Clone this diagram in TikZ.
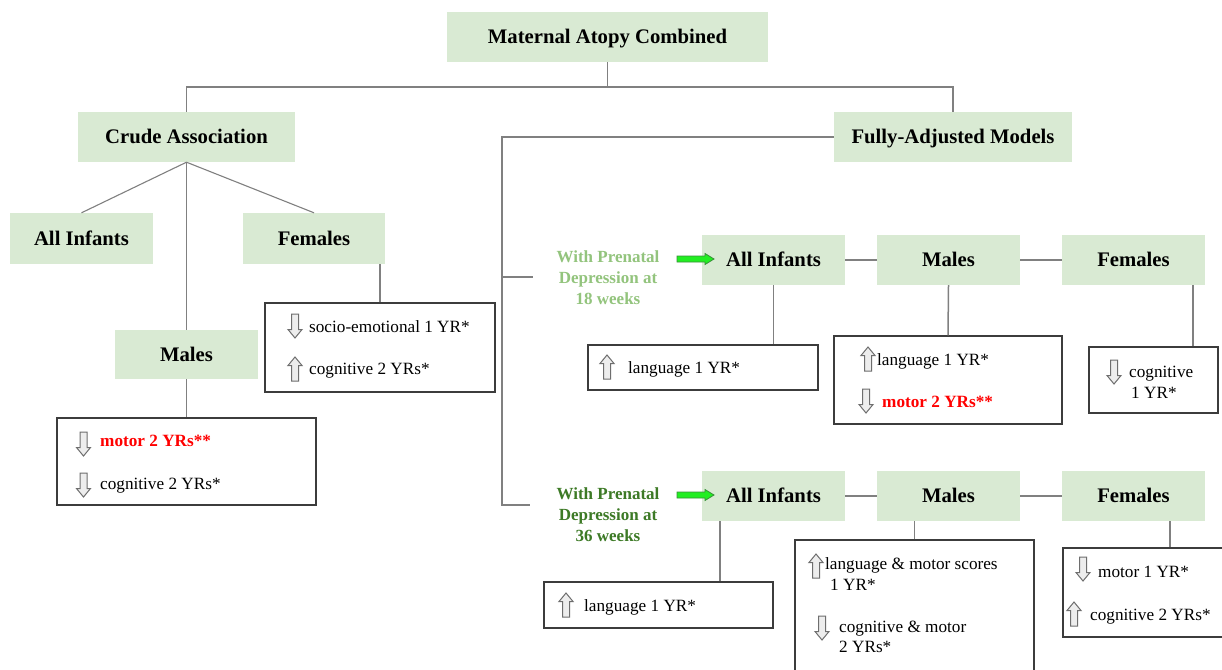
\documentclass[tikz,border=0pt]{standalone}
\usepackage{fontspec}
\setmainfont{Liberation Serif}
\definecolor{boxgreen}{HTML}{D9EAD3}
\definecolor{linegray}{HTML}{808080}
\definecolor{framegray}{HTML}{3C3C3C}
\definecolor{lightlabel}{HTML}{93C47D}
\definecolor{darklabel}{HTML}{3D7A26}
\definecolor{arrowfill}{HTML}{22EE22}
\definecolor{arrowline}{HTML}{3A8F3A}
\definecolor{hollowline}{HTML}{6E6E6E}
\newcommand\headfont{\fontsize{20.7}{24}\selectfont\bfseries}
\newcommand\itemfont{\fontsize{17.2}{21}\selectfont}
\newcommand\labelfont{\fontsize{17}{21}\selectfont\bfseries}
\tikzset{
  x=1pt, y=-1pt,
  gbox/.style={fill=boxgreen, inner sep=0pt, font=\headfont, text height=13.7pt, text depth=0pt},
  wbox/.style={draw=framegray, line width=1.4pt, fill=white, inner sep=0pt},
  link/.style={draw=linegray, line width=1.5pt},
  txt/.style={anchor=mid west, inner sep=0pt, font=\itemfont, yshift=-3.5pt},
  redtxt/.style={txt, text=red, font=\itemfont\bfseries},
  hollow/.style={draw=hollowline, fill=white!93!black, line width=1pt, line join=miter},
  uparr/.pic={\path[hollow] (-3.5,12) -- (-3.5,-3.5) -- (-7,-3.5) -- (0,-12) -- (7,-3.5) -- (3.5,-3.5) -- (3.5,12) -- cycle;},
  downarr/.pic={\path[hollow] (-3.5,-12) -- (-3.5,3.5) -- (-7,3.5) -- (0,12) -- (7,3.5) -- (3.5,3.5) -- (3.5,-12) -- cycle;},
  greenarr/.pic={\path[draw=arrowline, fill=arrowfill, line width=0.8pt]
      (0,-3) -- (28,-3) -- (28,-5.5) -- (37,0) -- (28,5.5) -- (28,3) -- (0,3) -- cycle;}
}
\begin{document}
\begin{tikzpicture}
\clip (0,0) rectangle (1222,669);
\fill[white] (0,0) rectangle (1222,669);

% ---------- top levels ----------
\node[gbox, minimum width=321pt, minimum height=50pt] (title) at (607.5,37) {Maternal Atopy Combined};
\node[gbox, minimum width=217pt, minimum height=50pt] (crude) at (186.5,137) {Crude Association};
\node[gbox, minimum width=238pt, minimum height=50pt] (fam) at (953,137) {Fully-Adjusted Models};

\coordinate (tj) at (607.5,87);
\draw[link] (title.south) -- (tj);
\draw[link] (crude.north) |- (tj) -| (fam.north);

% ---------- crude association branch ----------
\node[gbox, minimum width=143pt, minimum height=51pt] (lall) at (81.5,238.5) {All Infants};
\node[gbox, minimum width=142pt, minimum height=51pt] (lfem) at (314,238.5) {Females};
\node[gbox, minimum width=143pt, minimum height=49pt] (lmale) at (186.5,354.5) {Males};
\draw[link, line width=1.1pt] (crude.south) -- (lall.north);
\draw[link, line width=1.1pt] (crude.south) -- (lfem.north);
\draw[link] (crude.south) -- (lmale.north);

\node[wbox, minimum width=230pt, minimum height=89pt] (lfembox) at (380,347.5) {};
\draw[link] (lfembox.north) -- (lfembox.north |- lfem.south);
\pic at (295,326) {downarr};
\node[txt] (lf1) at (309,327) {socio-emotional 1 YR*};
\pic at (295,369) {uparr};
\node[txt] (lf2) at (309,369) {cognitive 2 YRs*};

\node[wbox, minimum width=259pt, minimum height=87pt] (lmalebox) at (186.5,461.5) {};
\draw[link] (lmale.south) -- (lmalebox.north);
\pic at (83.5,444) {downarr};
\node[redtxt] (lm1) at (100,441) {motor 2 YRs**};
\pic at (83.5,485) {downarr};
\node[txt] (lm2) at (100,484) {cognitive 2 YRs*};

% ---------- fully-adjusted branch ----------
\coordinate (sp1) at (502,137);
\coordinate (sp2) at (502,277);
\coordinate (sp3) at (502,505);
\coordinate (tk1) at (533,277);
\coordinate (tk2) at (530,505);
\draw[link] (fam.west) -- (sp1) -- (sp3) -- (tk2);
\draw[link] (sp2) -- (tk1);

% row: prenatal depression at 18 weeks
\node[align=center, font=\labelfont, text=lightlabel, inner sep=0pt] (lab18) at (608,278)
  {With Prenatal\\Depression at\\18 weeks};
\node[gbox, minimum width=143pt, minimum height=50pt] (r1all) at (773.5,260) {All Infants};
\node[gbox, minimum width=143pt, minimum height=50pt] (r1male) at (948.5,260) {Males};
\node[gbox, minimum width=143pt, minimum height=50pt] (r1fem) at (1133.5,260) {Females};
\pic at (677,259) {greenarr};
\draw[link] (r1all.east) -- (r1male.west);
\draw[link] (r1male.east) -- (r1fem.west);

\node[wbox, minimum width=230pt, minimum height=45pt] (r1allbox) at (703,367.5) {};
\draw[link] (r1all.south) -- (r1all.south |- r1allbox.north);
\pic at (607,367) {uparr};
\node[txt] (ra1) at (628,368) {language 1 YR*};

\node[wbox, minimum width=228pt, minimum height=88pt] (r1malebox) at (948,380) {};
\draw[link] (r1male.south) -- (r1malebox.north);
\pic at (868,359) {uparr};
\node[txt] (rm1) at (877,360) {language 1 YR*};
\pic at (866,401) {downarr};
\node[redtxt] (rm2) at (882,402) {motor 2 YRs**};

\node[wbox, minimum width=129pt, minimum height=66pt] (r1fembox) at (1153.5,380) {};
\coordinate (r1fx) at (1193,0);
\draw[link] (r1fem.south -| r1fx) -- (r1fembox.north -| r1fx);
\pic at (1114,372) {downarr};
\node[txt] (rf1) at (1129,372) {cognitive};
\node[txt] (rf2) at (1131,393) {1 YR*};

% row: prenatal depression at 36 weeks
\node[align=center, font=\labelfont, text=darklabel, inner sep=0pt] (lab36) at (608,515)
  {With Prenatal\\Depression at\\36 weeks};
\node[gbox, minimum width=143pt, minimum height=50pt] (r2all) at (773.5,496) {All Infants};
\node[gbox, minimum width=143pt, minimum height=50pt] (r2male) at (948.5,496) {Males};
\node[gbox, minimum width=143pt, minimum height=50pt] (r2fem) at (1133.5,496) {Females};
\pic at (677,495) {greenarr};
\draw[link] (r2all.east) -- (r2male.west);
\draw[link] (r2male.east) -- (r2fem.west);

\node[wbox, minimum width=229pt, minimum height=46pt] (r2allbox) at (658.5,605) {};
\coordinate (r2ax) at (720,0);
\draw[link] (r2all.south -| r2ax) -- (r2allbox.north -| r2ax);
\pic at (566,605) {uparr};
\node[txt] (sa1) at (584,606) {language 1 YR*};

\node[wbox, minimum width=239pt, minimum height=140pt] (r2malebox) at (914.5,610) {};
\draw[link] (r2malebox.north) -- (r2malebox.north |- r2male.south);
\pic at (816,566) {uparr};
\node[txt] (sm1) at (825,564) {language \& motor scores};
\node[txt] (sm2) at (830,585) {1 YR*};
\pic at (822,628) {downarr};
\node[txt] (sm3) at (839,627) {cognitive \& motor};
\node[txt] (sm4) at (839,647) {2 YRs*};

\node[wbox, minimum width=175pt, minimum height=89pt] (r2fembox) at (1150.5,592.5) {};
\coordinate (r2fx) at (1170,0);
\draw[link] (r2fem.south -| r2fx) -- (r2fembox.north -| r2fx);
\pic at (1083,569) {downarr};
\node[txt] (sf1) at (1098,572) {motor 1 YR*};
\pic at (1074,614) {uparr};
\node[txt] (sf2) at (1090,615) {cognitive 2 YRs*};
\end{tikzpicture}
\end{document}
